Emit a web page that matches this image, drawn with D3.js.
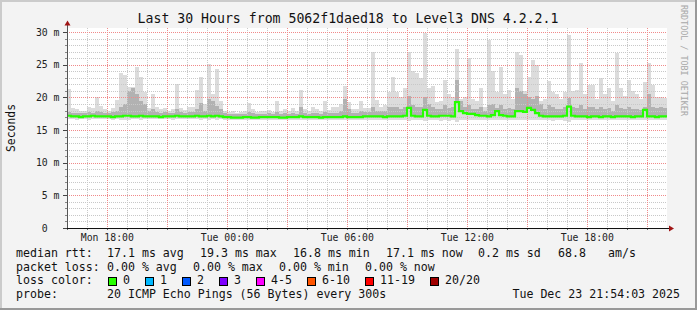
<!DOCTYPE html>
<html><head><meta charset="utf-8">
<script src="https://cdn.jsdelivr.net/npm/d3@7"></script>
<style>
html,body{margin:0;padding:0;background:#f3f3f3;overflow:hidden;}
text{font-family:"DejaVu Sans Mono",monospace;white-space:pre;}
</style></head><body>
<svg id="c" width="697" height="310"></svg>
<script>
// ---------- data ----------
const title = "Last 30 Hours from 5062f1daed18 to Level3 DNS 4.2.2.1";
const yLabel = "Seconds";
const credit = "RRDTOOL / TOBI OETIKER";
const yTickValues = [0, 5, 10, 15, 20, 25, 30];           // ms
const yTickLabels = ["0  ", "5 m", "10 m", "15 m", "20 m", "25 m", "30 m"];
const startTime = Date.UTC(2025, 11, 22, 15, 59);
const endTime = Date.UTC(2025, 11, 23, 21, 59);
const binMinutes = 12;

// upper edge of the light smoke (max ping per bin, ms)
const smokeMax = [
  21.3,18.4,18.2,17.9,18.0,18.6,18.4,20.1,18.7,18.3,
  17.9,18.4,19.6,23.8,23.4,21.6,21.6,24.6,23.1,20.9,
  18.4,20.5,18.6,18.2,18.4,18.0,18.3,22.0,18.4,18.1,
  18.6,18.5,21.2,23.2,19.0,25.1,20.5,24.4,19.5,18.0,
  17.8,17.9,17.7,17.8,17.9,19.2,18.3,17.8,17.9,18.0,
  18.1,17.8,19.4,18.0,18.2,17.9,18.4,18.0,21.2,18.2,
  17.9,18.5,18.3,17.9,19.4,18.1,18.6,18.5,19.0,21.8,
  19.3,18.3,18.2,19.4,18.4,18.4,27.0,19.6,18.6,18.8,
  20.9,23.1,20.9,20.0,21.4,26.9,24.0,23.8,23.0,29.9,
  21.4,21.8,19.3,19.5,22.7,20.5,20.0,27.5,19.7,20.0,
  26.0,19.8,19.5,21.4,18.5,28.8,24.0,20.8,24.7,20.5,
  21.2,19.8,27.0,26.5,21.0,23.2,25.8,25.0,19.5,19.8,
  22.5,20.9,20.6,19.8,20.9,29.6,21.0,21.2,25.3,20.6,
  21.9,21.9,19.8,23.0,20.6,21.4,19.4,26.8,21.5,20.3,
  22.7,21.0,20.5,19.8,22.4,25.3,21.9,20.0,20.0,19.9
];
// upper edge of the dense (darker) smoke, ms
const smokeMid = [
  17.8,17.7,17.7,17.6,17.7,17.8,17.7,18.0,17.8,17.7,
  17.6,17.8,18.0,18.5,19.0,21.0,21.4,20.5,19.5,19.0,
  18.0,18.2,17.8,17.7,17.8,17.7,17.7,18.3,17.8,17.7,
  17.8,17.8,18.2,19.2,18.0,19.8,19.5,18.7,18.2,17.6,
  17.5,17.5,17.4,17.5,17.5,17.8,17.6,17.5,17.5,17.5,
  17.6,17.5,17.8,17.5,17.6,17.5,17.6,17.5,18.5,17.6,
  17.5,17.7,17.6,17.5,17.8,17.6,17.7,17.7,17.9,19.8,
  18.3,17.7,17.7,18.0,17.8,17.8,18.5,18.0,17.9,18.0,
  18.5,18.6,18.5,18.3,18.6,20.3,18.8,18.6,18.5,20.0,
  19.0,18.6,18.2,18.3,18.8,18.4,18.5,22.7,19.5,18.6,
  18.8,18.3,18.2,18.6,18.0,18.8,19.0,18.4,18.8,18.2,
  18.4,18.3,21.5,21.0,20.5,20.0,19.8,20.2,19.0,18.3,
  18.8,18.5,18.3,18.2,18.5,19.9,18.6,18.4,18.8,18.2,
  18.5,18.6,18.2,18.5,18.3,18.4,18.0,18.8,18.4,18.2,
  18.6,18.3,18.2,18.1,18.6,20.5,18.6,18.4,18.5,18.4
];
// lower edge of the smoke (min ping per bin, ms)
const smokeMin = [
  16.7,16.7,16.6,16.7,16.7,16.6,16.7,16.7,16.7,16.7,
  16.7,16.6,16.7,16.6,16.6,16.6,16.7,16.7,16.6,16.7,
  16.7,16.7,16.7,16.7,16.7,16.7,16.6,16.7,16.7,16.7,
  16.7,16.7,16.7,16.6,16.7,16.6,16.7,16.6,16.7,16.6,
  16.6,16.6,16.5,16.6,16.6,16.6,16.6,16.6,16.6,16.6,
  16.6,16.6,16.6,16.5,16.6,16.6,16.6,16.6,16.6,16.6,
  16.6,16.6,16.6,16.6,16.6,16.6,16.6,16.6,16.6,16.6,
  16.6,16.6,16.6,16.6,16.6,16.6,16.5,16.6,16.6,16.6,
  16.6,16.5,16.6,16.6,16.6,16.4,16.6,16.5,16.6,16.4,
  16.5,16.6,16.6,16.4,16.5,16.4,16.6,16.3,16.6,16.6,
  16.6,16.6,16.6,16.6,16.6,16.5,16.6,16.6,16.6,16.6,
  16.6,16.6,16.6,16.6,16.6,16.6,16.6,16.6,16.6,16.6,
  16.6,16.4,16.5,16.5,16.4,16.3,16.5,16.6,16.6,16.6,
  16.6,16.6,16.6,16.6,16.6,16.6,16.6,16.6,16.6,16.6,
  16.6,16.6,16.6,16.6,16.6,16.6,16.6,16.6,16.6,16.6
];
// median rtt per bin, ms
const median = [
  17.2,17.1,17.1,17.0,17.1,17.1,17.2,17.1,17.1,17.1,
  17.1,17.0,17.1,17.1,17.2,17.2,17.1,17.1,17.2,17.1,
  17.1,17.1,17.1,17.0,17.1,17.1,17.1,17.2,17.1,17.1,
  17.1,17.1,17.2,17.1,17.1,17.2,17.1,17.2,17.1,17.0,
  17.0,16.9,16.9,16.9,17.0,17.0,16.9,16.9,17.0,17.0,
  17.0,17.0,17.0,16.9,16.9,17.0,17.0,17.0,17.1,17.0,
  17.0,17.0,17.0,16.9,17.0,17.0,17.0,17.0,17.0,17.1,
  17.0,17.0,17.0,17.0,17.1,17.1,17.1,17.1,17.1,17.0,
  17.1,17.1,17.1,17.1,17.2,18.4,17.2,17.1,17.1,18.1,
  17.2,17.1,17.1,17.2,17.2,17.2,17.1,19.3,17.9,17.6,
  17.5,17.5,17.3,17.2,17.2,17.1,17.3,17.9,17.3,17.2,
  17.1,17.1,17.9,17.9,17.8,18.4,18.1,17.6,17.2,17.1,
  17.1,17.1,17.1,17.1,17.2,18.6,17.2,17.1,17.1,17.1,
  17.0,17.1,17.1,17.0,17.1,17.1,17.0,17.1,17.1,17.1,
  17.1,17.0,17.1,17.1,18.1,17.1,17.1,17.0,17.1,17.1
];

const rttName = "median rtt:";
const rttStats = ["17.1 ms avg", "19.3 ms max", "16.8 ms min", "17.1 ms now", "0.2 ms sd", "68.8", "am/s"];
const lossName = "packet loss:";
const lossStats = ["0.00 % avg", "0.00 % max", "0.00 % min", "0.00 % now"];
const colorName = "loss color:";
const lossLabels = ["0", "1", "2", "3", "4-5", "6-10", "11-19", "20/20"];
const lossColors = ["#26ff00", "#00b8ff", "#0059ff", "#7e00ff", "#ff00ff", "#ff5500", "#ff0000", "#a00000"];
const probeName = "probe:";
const probeText = "20 ICMP Echo Pings (56 Bytes) every 300s";
const stamp = "Tue Dec 23 21:54:03 2025";

// ---------- layout ----------
const W = 697, H = 310;
const L = 67, R = 667, T = 28, B = 228;
const svg = d3.select("#c");

const x = d3.scaleUtc().domain([startTime, endTime]).range([L, R]);
const y = d3.scaleLinear().domain([0, 30.65]).range([B, T]);
const bins = median.map((m, i) => {
  const t0 = startTime + i * binMinutes * 60000;
  return {t0, t1: t0 + binMinutes * 60000, max: smokeMax[i], mid: smokeMid[i], min: smokeMin[i], med: m};
});

// frame
svg.append("rect").attr("width", W).attr("height", H).attr("fill", "#f3f3f3");
svg.append("rect").attr("x", 0).attr("y", 0).attr("width", W).attr("height", 2).attr("fill", "#cbcbcb");
svg.append("rect").attr("x", 0).attr("y", 0).attr("width", 2).attr("height", H).attr("fill", "#cbcbcb");
svg.append("rect").attr("x", 0).attr("y", H - 2).attr("width", W).attr("height", 2).attr("fill", "#999");
svg.append("rect").attr("x", W - 2).attr("y", 0).attr("width", 2).attr("height", H).attr("fill", "#999");

// canvas
svg.append("rect").attr("x", L).attr("y", T).attr("width", R - L).attr("height", B - T).attr("fill", "#fff");

// smoke
const smoke = svg.append("g").attr("shape-rendering", "crispEdges");
smoke.selectAll("rect.lt").data(bins).join("rect").attr("class", "lt")
  .attr("x", d => x(d.t0)).attr("width", d => x(d.t1) - x(d.t0))
  .attr("y", d => y(d.max)).attr("height", d => y(d.min) - y(d.max))
  .attr("fill", "#dcdcdc");
smoke.selectAll("rect.md").data(bins).join("rect").attr("class", "md")
  .attr("x", d => x(d.t0)).attr("width", d => x(d.t1) - x(d.t0))
  .attr("y", d => y(d.mid)).attr("height", d => y(d.med) - y(d.mid))
  .attr("fill", "#b2b2b2");

// grid
const grid = svg.append("g").attr("shape-rendering", "crispEdges");
const yMinor = d3.range(1, 31).filter(v => v % 5 !== 0);
const yMajor = yTickValues.filter(v => v > 0);
grid.selectAll("line.ym").data(yMinor).join("line")
  .attr("x1", L).attr("x2", R).attr("y1", d => Math.round(y(d)) + 0.5).attr("y2", d => Math.round(y(d)) + 0.5)
  .attr("stroke", "#c8c8c8").attr("stroke-dasharray", "1,1");
const hours = d3.utcHour.range(new Date(startTime), new Date(endTime));
const xMinor = hours.filter(d => d.getUTCHours() % 3 !== 0);
const xMajor = hours.filter(d => d.getUTCHours() % 3 === 0);
grid.selectAll("line.xm").data(xMinor).join("line")
  .attr("y1", T).attr("y2", B).attr("x1", d => Math.round(x(d)) + 0.5).attr("x2", d => Math.round(x(d)) + 0.5)
  .attr("stroke", "#c8c8c8").attr("stroke-dasharray", "1,1");
grid.selectAll("line.yM").data(yMajor).join("line")
  .attr("x1", L).attr("x2", R).attr("y1", d => Math.round(y(d)) + 0.5).attr("y2", d => Math.round(y(d)) + 0.5)
  .attr("stroke", "#f08a8a").attr("stroke-dasharray", "1,1");
grid.selectAll("line.xM").data(xMajor).join("line")
  .attr("y1", T).attr("y2", B).attr("x1", d => Math.round(x(d)) + 0.5).attr("x2", d => Math.round(x(d)) + 0.5)
  .attr("stroke", "#f08a8a").attr("stroke-dasharray", "1,1");
// ticks
grid.selectAll("line.yt").data(yTickValues).join("line")
  .attr("x1", L - 4).attr("x2", L).attr("y1", d => Math.round(y(d)) + 0.5).attr("y2", d => Math.round(y(d)) + 0.5)
  .attr("stroke", "#444");
grid.selectAll("line.yt2").data(yMinor).join("line")
  .attr("x1", L - 2).attr("x2", L).attr("y1", d => Math.round(y(d)) + 0.5).attr("y2", d => Math.round(y(d)) + 0.5)
  .attr("stroke", "#888");
grid.selectAll("line.xt").data(hours).join("line")
  .attr("y1", B).attr("y2", B + 2).attr("x1", d => Math.round(x(d)) + 0.5).attr("x2", d => Math.round(x(d)) + 0.5)
  .attr("stroke", "#666");

// median line
svg.append("path").datum(bins.concat([{t0: endTime, med: median[median.length - 1]}]))
  .attr("fill", "none").attr("stroke", "#26ff00").attr("stroke-width", 2.2)
  .attr("d", d3.line().x(d => x(d.t0)).y(d => y(d.med)).curve(d3.curveStepAfter));

// axes
svg.append("line").attr("x1", L + 0.5).attr("x2", L + 0.5).attr("y1", B).attr("y2", 24)
  .attr("stroke", "#555").attr("shape-rendering", "crispEdges");
svg.append("line").attr("x1", L).attr("x2", 670).attr("y1", B + 0.5).attr("y2", B + 0.5)
  .attr("stroke", "#111").attr("shape-rendering", "crispEdges");
svg.append("path").attr("d", "M64.5,25.5L70.5,25.5L67.5,20.5Z").attr("fill", "#a01515");
svg.append("path").attr("d", "M669,225.5L669,231.5L674,228.5Z").attr("fill", "#a01515");

// y labels
svg.selectAll("text.yl").data(yTickValues).join("text").attr("class", "yl")
  .attr("x", 59.5).attr("y", d => y(d) + 3.5).attr("text-anchor", "end")
  .attr("font-size", "9.8px").attr("fill", "#222")
  .text((d, i) => yTickLabels[i]);
// x labels
const xLabelTimes = hours.filter(d => d.getUTCHours() % 6 === 0);
const fmt = d3.utcFormat("%a %H:%M");
svg.selectAll("text.xl").data(xLabelTimes).join("text").attr("class", "xl")
  .attr("x", d => x(d)).attr("y", 241).attr("text-anchor", "middle")
  .attr("font-size", "9.8px").attr("fill", "#222").text(d => fmt(d));

// title and side texts
svg.append("text").attr("x", 348).attr("y", 22.5).attr("text-anchor", "middle")
  .attr("font-size", "13.2px").attr("fill", "#111").text(title);
svg.append("text").attr("transform", "translate(15,128) rotate(-90)").attr("text-anchor", "middle")
  .attr("font-size", "11.4px").attr("fill", "#111").text(yLabel);
svg.append("text").attr("transform", "translate(681,5) rotate(90)").attr("text-anchor", "start")
  .attr("font-size", "8.4px").attr("fill", "#a8a8a8").text(credit);

// legend
const lg = svg.append("g").attr("font-size", "11.6px").attr("fill", "#111");
const rttX = [107, 200, 293, 386, 478, 558, 608];
const lossX = [107, 193, 279, 365];
const swX = [108, 145, 182, 219, 256, 307, 365, 430];
lg.append("text").attr("x", 16).attr("y", 257).text(rttName);
rttStats.forEach((s, i) => lg.append("text").attr("x", rttX[i]).attr("y", 257).text(s));
lg.append("text").attr("x", 16).attr("y", 270.5).text(lossName);
lossStats.forEach((s, i) => lg.append("text").attr("x", lossX[i]).attr("y", 270.5).text(s));
lg.append("text").attr("x", 16).attr("y", 284).text(colorName);
lossLabels.forEach((s, i) => {
  lg.append("rect").attr("x", swX[i] + 0.5).attr("y", 277.5).attr("width", 8).attr("height", 8)
    .attr("fill", lossColors[i]).attr("stroke", "#000").attr("stroke-width", 1);
  lg.append("text").attr("x", swX[i] + 15).attr("y", 284).text(s);
});
lg.append("text").attr("x", 16).attr("y", 297.5).text(probeName);
lg.append("text").attr("x", 107).attr("y", 297.5).text(probeText);
lg.append("text").attr("x", 680).attr("y", 297.5).attr("text-anchor", "end").text(stamp);
</script>
</body></html>
